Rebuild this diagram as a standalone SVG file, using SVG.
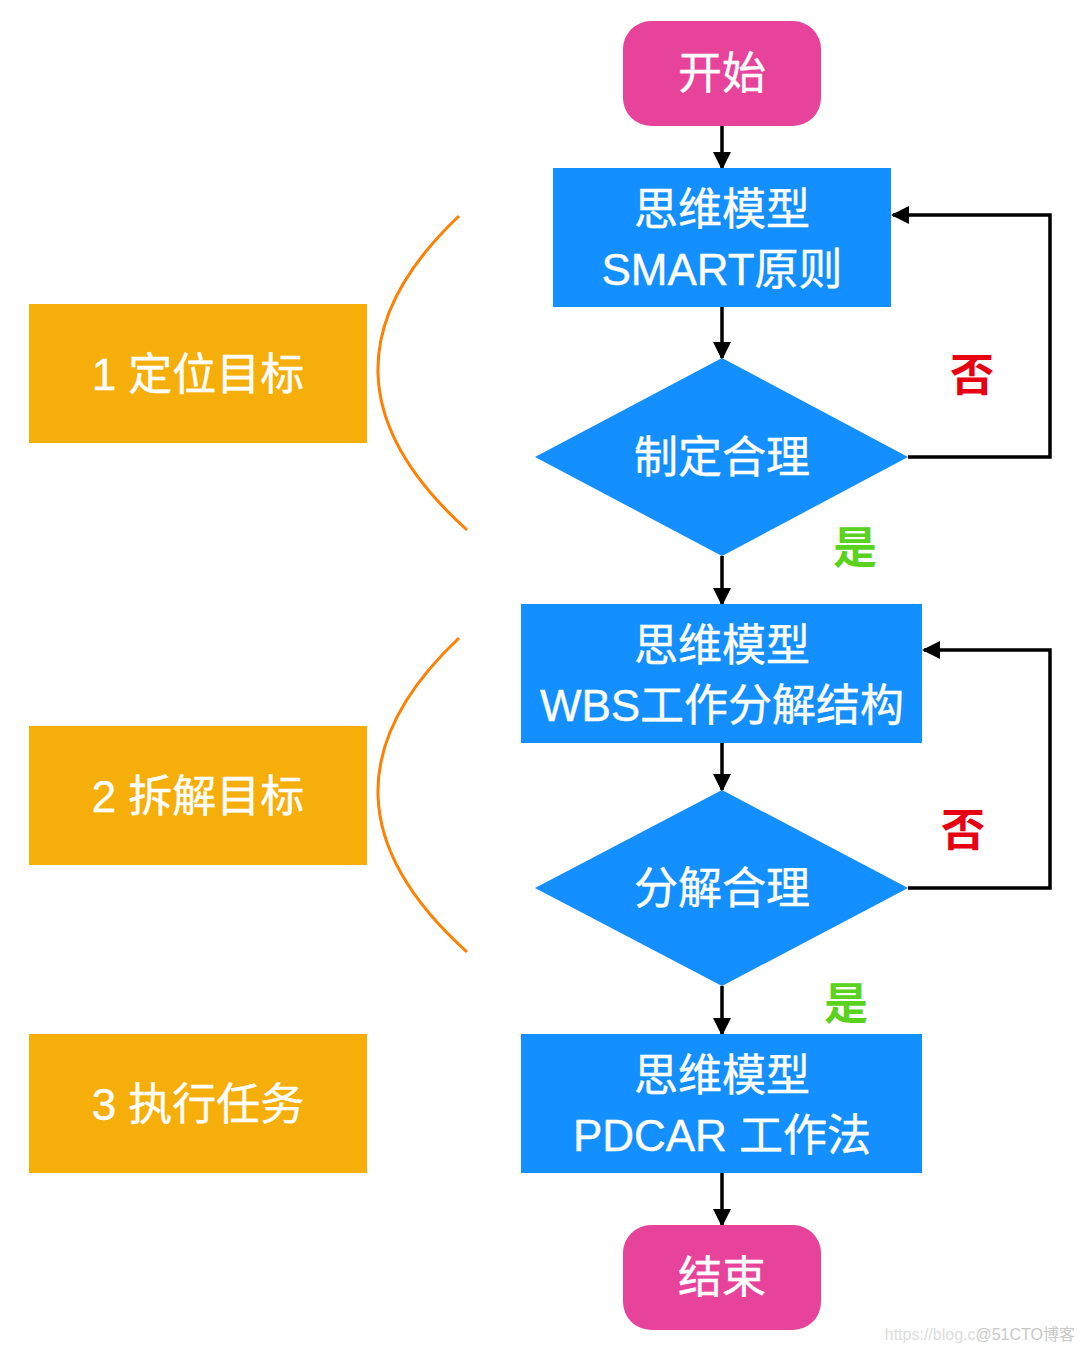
<svg xmlns="http://www.w3.org/2000/svg" width="1084" height="1352" viewBox="0 0 1084 1352">
<style>
.t{font-family:"Liberation Sans","Noto Sans CJK SC",sans-serif;fill:#fff;font-size:44px;text-anchor:middle;stroke:#fff;stroke-width:0.4}
.term{fill:#E8439A}
.proc{fill:#148FFF}
.side{fill:#F5AE0A}
.c{fill:none;stroke:#000;stroke-width:3.5}
.arc{fill:none;stroke:#FF7F00;stroke-width:3}
.no{font-family:"Noto Sans CJK SC",sans-serif;font-size:44px;fill:#E60012;font-weight:bold;text-anchor:middle}
.yes{font-family:"Noto Sans CJK SC",sans-serif;font-size:44px;fill:#5AD21E;font-weight:bold;text-anchor:middle}
</style>
<defs>
<marker id="a" markerWidth="18" markerHeight="18" refX="16" refY="9" orient="auto" markerUnits="userSpaceOnUse">
<path d="M0,0 L18,9 L0,18 Z" fill="#000"/>
</marker>
</defs>
<rect width="1084" height="1352" fill="#fff"/>
<g id="connectors">
<line class="c" x1="722" y1="126" x2="722" y2="168" marker-end="url(#a)"/>
<line class="c" x1="722" y1="307" x2="722" y2="358" marker-end="url(#a)"/>
<polyline class="c" points="908,457 1050,457 1050,215 893,215" marker-end="url(#a)"/>
<line class="c" x1="722" y1="556" x2="722" y2="604" marker-end="url(#a)"/>
<line class="c" x1="722" y1="743" x2="722" y2="790" marker-end="url(#a)"/>
<polyline class="c" points="908,888 1050,888 1050,650 924,650" marker-end="url(#a)"/>
<line class="c" x1="722" y1="986" x2="722" y2="1034" marker-end="url(#a)"/>
<line class="c" x1="722" y1="1173" x2="722" y2="1225" marker-end="url(#a)"/>
</g>
<g id="start"><rect class="term" x="623" y="21" width="198" height="105" rx="28"/><text class="t" x="722" y="89">开始</text></g>
<g id="smart"><rect class="proc" x="553" y="168" width="338" height="139"/><text class="t" x="722" y="225">思维模型</text><text class="t" x="722" y="285">SMART原则</text></g>
<g id="d1"><polygon class="proc" points="722,358 908,457 722,556 535,457"/><text class="t" x="722" y="473">制定合理</text></g>
<g id="wbs"><rect class="proc" x="521" y="604" width="401" height="139"/><text class="t" x="722" y="661">思维模型</text><text class="t" x="722" y="721">WBS工作分解结构</text></g>
<g id="d2"><polygon class="proc" points="722,790 908,888 722,986 535,888"/><text class="t" x="722" y="904">分解合理</text></g>
<g id="pdcar"><rect class="proc" x="521" y="1034" width="401" height="139"/><text class="t" x="722" y="1091">思维模型</text><text class="t" x="722" y="1151">PDCAR 工作法</text></g>
<g id="end"><rect class="term" x="623" y="1225" width="198" height="105" rx="28"/><text class="t" x="722" y="1293">结束</text></g>
<g id="s1"><rect class="side" x="29" y="304" width="338" height="139"/><text class="t" x="198" y="390">1 定位目标</text></g>
<g id="s2"><rect class="side" x="29" y="726" width="338" height="139"/><text class="t" x="198" y="812">2 拆解目标</text></g>
<g id="s3"><rect class="side" x="29" y="1034" width="338" height="139"/><text class="t" x="198" y="1120">3 执行任务</text></g>
<path class="arc" d="M459,216 Q293,373 467,530"/>
<path class="arc" d="M459,638 Q293,795 467,952"/>
<text class="no" x="972" y="391">否</text>
<text class="no" x="963" y="846">否</text>
<text class="yes" x="855" y="564">是</text>
<text class="yes" x="846" y="1020">是</text>
<text x="1075" y="1340" font-family="Liberation Sans,Noto Sans CJK SC,sans-serif" font-size="16" fill="#ddd" text-anchor="end">https://blog.c<tspan fill="#c8c8c8">@51CTO博客</tspan></text>
</svg>
